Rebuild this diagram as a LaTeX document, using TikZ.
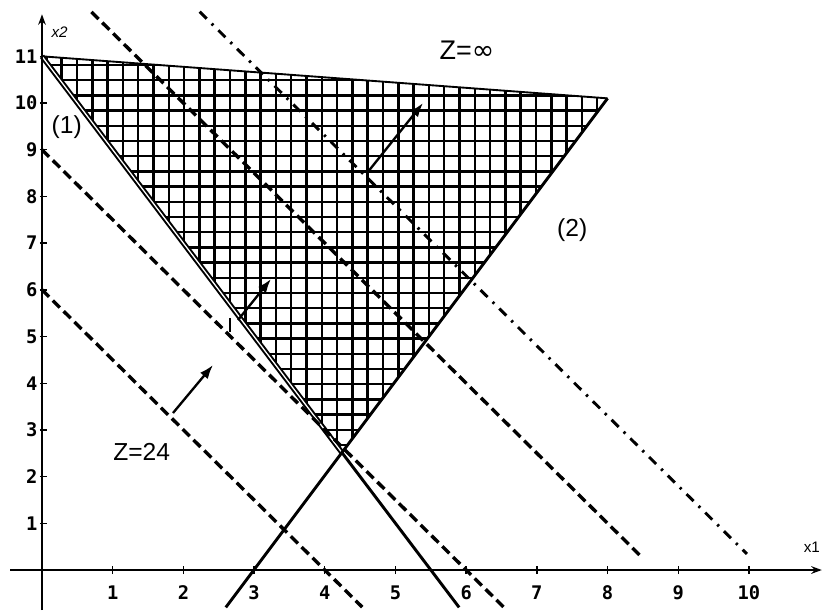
\documentclass[tikz,border=0pt]{standalone}
\usepackage{fontspec}
\setmainfont{Liberation Sans}
\newfontfamily\tickfont{DejaVu Sans Mono}
\newfontfamily\symfont{DejaVu Sans}
\usetikzlibrary{arrows.meta}
\begin{document}
\begin{tikzpicture}[x=2.121cm, y=1.401cm,
  axis/.style={line width=2pt},
  cons/.style={line width=2.5pt},
  isoline/.style={line width=2.9pt, dash pattern=on 8.5pt off 4.5pt},
  isodot/.style={line width=2.5pt, dash pattern=on 8.5pt off 6pt on 2pt off 6pt},
  gridline/.style={line width=2.1pt},
  dirarrow/.style={line width=2pt, -{Latex[length=12pt,width=8.5pt]}},
  axisarrow/.style={axis, -{Stealth[length=9pt,width=6.5pt]}},
  ticklab/.style={font=\tickfont\bfseries\fontsize{16}{16}\selectfont, inner sep=0pt},
  biglab/.style={font=\fontsize{21}{21}\selectfont, inner sep=0pt},
  axlab/.style={font=\fontsize{13}{13}\selectfont, inner sep=0pt},
]
\useasboundingbox (-0.594,-0.857) rectangle (11.047,12.206);
\fill[white] (-0.594,-0.857) rectangle (11.047,12.206);

% key points
\coordinate (A) at (0,11);
\coordinate (B) at (8,10.1);
\coordinate (L1e) at (5.9,-0.8);
\coordinate (L2s) at (2.6,-0.8);
\coordinate (V) at (intersection of A--L1e and L2s--B);

% hatched feasible region
\begin{scope}
  \clip (A) -- (B) -- (V) -- cycle;
  \foreach \i in {-1,...,36} \draw[gridline] ({0.2786+0.2164*\i},2) -- ++(0,10);
  \foreach \j in {-1,...,27} \draw[gridline] (-0.5,{10.814-0.3255*\j}) -- ++(9,0);
\end{scope}

% region boundary and constraints
\draw[line width=1.6pt] (A) -- (B);
\draw[line width=1.7pt, double, double distance=1.1pt] (A) -- (V);
\draw[cons] (V) -- (L1e);
\draw[cons] (L2s) -- (B);

% axes
\coordinate (xs) at (-0.45,0);
\coordinate (xe) at (11.03,0);
\coordinate (ys) at (0,-0.857);
\coordinate (ye) at (0,11.9);
\draw[axisarrow] (xs) -- (xe);
\draw[axisarrow] (ys) -- (ye);
\foreach \x in {1,...,10} {
  \draw[line width=1.2pt] (\x,-0.09) -- (\x,0.09);
  \node[ticklab] (tx\x) at (\x,-0.49) {\x};
}
\foreach \y in {1,...,11} {
  \draw[line width=1.2pt] (-0.03,\y) -- (0.07,\y);
  \node[ticklab, anchor=east] (ty\y) at (-0.06,\y) {\y};
}
\node[axlab] (x1lab) at (10.89,0.49) {x1};
\node[axlab] (x2lab) at (0.25,11.52) {\itshape x2};

% objective iso-lines
\coordinate (d1s) at (0,6);      \coordinate (d1e) at (4.53,-0.795);
\coordinate (d2s) at (0,9);      \coordinate (d2e) at (6.53,-0.795);
\coordinate (d3s) at (0.7,11.95); \coordinate (d3e) at (8.5,0.25);
\coordinate (d4s) at (2.23,11.955); \coordinate (d4e) at (9.97,0.345);
\draw[isoline] (d1s) -- (d1e);
\draw[isoline] (d2s) -- (d2e);
\draw[isoline] (d3s) -- (d3e);
\draw[isodot] (d4s) -- (d4e);

% direction arrows
\coordinate (a1s) at (1.853,3.362); \coordinate (a1e) at (2.419,4.390);
\coordinate (a2s) at (2.772,5.353); \coordinate (a2e) at (3.239,6.231);
\coordinate (a3s) at (4.597,8.501); \coordinate (a3e) at (5.389,10.0);
\draw[dirarrow] (a1s) -- (a1e);
\draw[dirarrow] (a2s) -- (a2e);
\draw[dirarrow] (a3s) -- (a3e);
\coordinate (m1) at (2.659,5.396); \coordinate (m2) at (2.659,5.096);
\draw[line width=1.6pt] (m1) -- (m2);

% labels
\node[biglab] (lab1) at (0.35,9.49) {(1)};
\node[biglab] (lab2) at (7.5,7.28) {(2)};
\node[biglab] (zlab) at (1.41,2.53) {Z=24};
\node[biglab, font=\fontsize{23}{23}\selectfont] (zinf) at (6.01,11.13) {Z=\symfont ∞};
\end{tikzpicture}
\end{document}
